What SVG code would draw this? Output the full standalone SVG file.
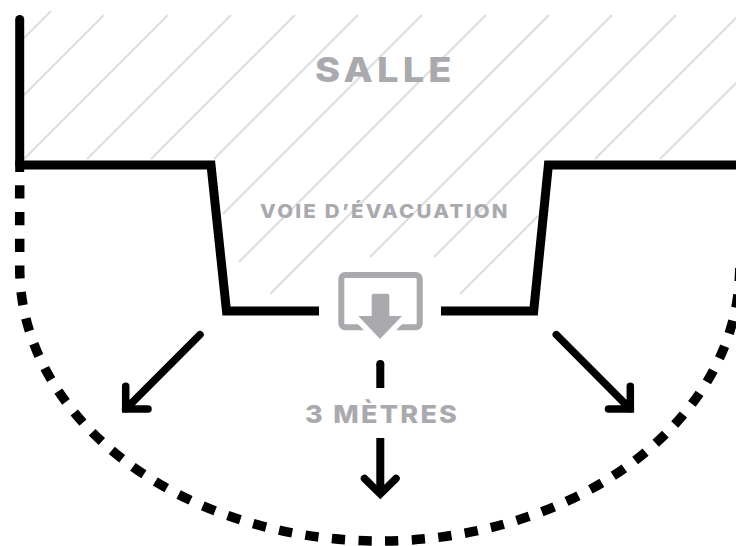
<svg xmlns="http://www.w3.org/2000/svg" width="736" height="546" viewBox="0 0 736 546">
<style>
.hatch{stroke:#dcdce4;stroke-width:2;fill:none}
.wall{stroke:#000;stroke-width:9;fill:none;stroke-miterlimit:10}
.arrow{stroke:#000;stroke-width:7.5;fill:none;stroke-linecap:round;stroke-miterlimit:10}
.label{font-family:"Inter","Liberation Sans",sans-serif;font-weight:800;fill:#a9a9ae}
</style>
<rect width="736" height="546" fill="#fff"/>
<g id="hatching" class="hatch">
<path d="M51 11L24 38M104 15L24 95M168 15L24 159M231 15L87 159M295 15L151 159M358 15L214 159M422 15L223 214M486 15L239 262M549 15L270 294M612 15L370 257M676 15L434 257M739 15L595 159M538 216L460 294M736 83L660 159"/>
</g>
<g id="walls">
<path class="wall" d="M19.7 165V19.5" stroke-linecap="round"/>
<path class="wall" d="M19.7 172V165H211L226.5 311H319"/>
<path class="wall" d="M441 311H533.7L548.4 165H736"/>
</g>
<g id="perimeter">
<path d="M19.7 185.3V268A360 273 0 0 0 739.7 268" fill="none" stroke="#000" stroke-width="9.5" stroke-dasharray="13.3 13.4"/>
</g>
<g id="exit-icon">
<rect x="341.3" y="275" width="78.4" height="52.3" rx="4" fill="#fff" stroke="#a9a9ae" stroke-width="6"/>
<polygon points="349.8,316 410.2,316 380,346.3" fill="#fff"/>
<path d="M373.7 293.7H387.3Q389.3 293.7 389.3 295.7V316H402L380 339L358.3 316H371.7V295.7Q371.7 293.7 373.7 293.7Z" fill="#a9a9ae"/>
</g>
<g id="connectors">
<path class="arrow" d="M200 334.7L125.7 409M125.7 386.3V409H148"/>
<path class="arrow" d="M556.3 334.7L630.3 409M630.3 386.3V409H608.5"/>
<path d="M380.3 364V388" fill="none" stroke="#000" stroke-width="8"/>
<circle cx="380.3" cy="364" r="4" fill="#000"/>
<path d="M380.3 438V494" fill="none" stroke="#000" stroke-width="8"/>
<path class="arrow" d="M364.5 478.5L380.3 494L396 478.5"/>
</g>
<g id="labels">
<text class="label" transform="translate(315 82) scale(1.1 1)" font-size="34.5" textLength="124.1" lengthAdjust="spacing">SALLE</text>
<text class="label" transform="translate(260 218.3) scale(1.08 1)" font-size="19" textLength="229.2" lengthAdjust="spacing">VOIE D’ÉVACUATION</text>
<text class="label" transform="translate(305 423) scale(1.08 1)" font-size="25" textLength="140.7" lengthAdjust="spacing">3 MÈTRES</text>
</g>
</svg>
